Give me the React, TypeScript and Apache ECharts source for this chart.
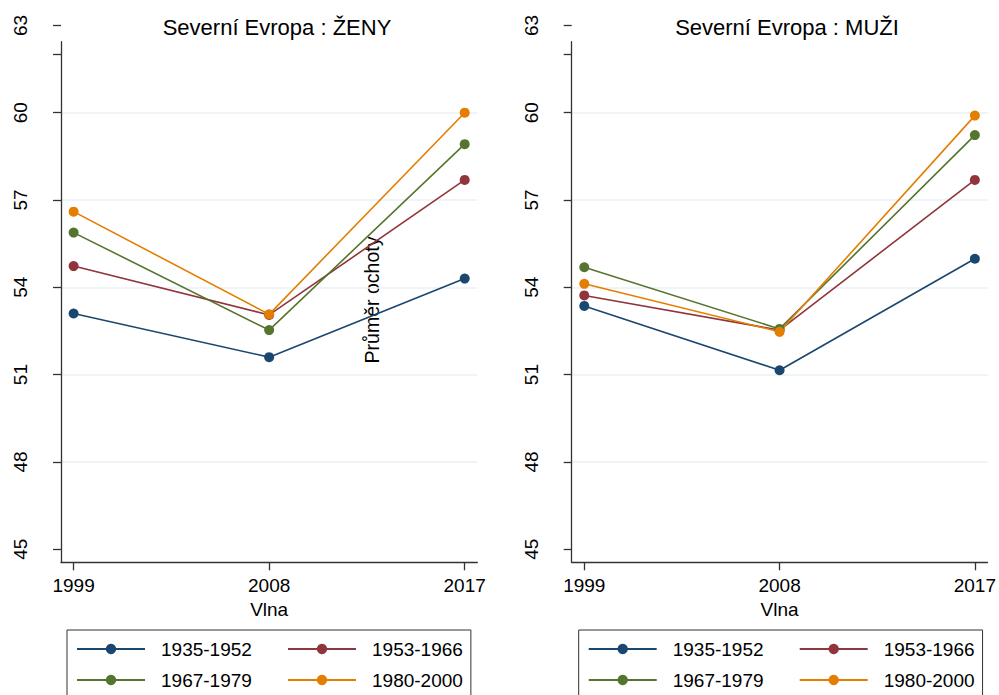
import React, { useEffect, useRef } from 'react';
import * as echarts from 'echarts';

// ---- data ----
const WAVES = [1999, 2008, 2017];
const COHORTS = ['1935-1952', '1953-1966', '1967-1979', '1980-2000'];
const COLORS = ['#1a476f', '#90353b', '#55752f', '#e37e00'];

const ZENY_1935_1952 = [53.1, 51.6, 54.3];
const ZENY_1953_1966 = [54.73, 53.05, 57.69];
const ZENY_1967_1979 = [55.88, 52.53, 58.92];
const ZENY_1980_2000 = [56.6, 53.07, 60.0];

const MUZI_1935_1952 = [53.36, 51.15, 54.98];
const MUZI_1953_1966 = [53.72, 52.53, 57.69];
const MUZI_1967_1979 = [54.69, 52.57, 59.23];
const MUZI_1980_2000 = [54.12, 52.47, 59.9];

const PANEL_TITLES = ['Severní Evropa : ŽENY', 'Severní Evropa : MUŽI'];
const Y_TICKS = [45, 48, 51, 54, 57, 60, 63];
const Y_EXTRA_TICKS = [62];
const X_TITLE = 'Vlna';
const Y_TITLE = 'Průměr ochoty';

// ---- layout ----
const FONT = '"Liberation Sans", Arial, sans-serif';
const PANEL_LEFT = [61, 571.7];
const GRID_W = 416.3;
const MAIN_TOP = 41.7;
const MAIN_H = 520.6;
const Y_RANGE = [44.55, 62.44];
const LABEL_TOP = 25.4;
const LABEL_H = 523.8;
const X_RANGE = [1998.42, 2017.58];
const TITLE_X = [272, 782];
const LEGEND_LEFT = [67, 578.7];
const AXIS_COLOR = '#333';
const GRID_COLOR = '#eaf2f3';

export default function App() {
  const ref = useRef<HTMLDivElement>(null);

  useEffect(() => {
    document.body.style.margin = '0';
    if (!ref.current) return;
    const chart = echarts.init(ref.current, undefined, { renderer: 'svg' });

    const panels = [
      [ZENY_1935_1952, ZENY_1953_1966, ZENY_1967_1979, ZENY_1980_2000],
      [MUZI_1935_1952, MUZI_1953_1966, MUZI_1967_1979, MUZI_1980_2000],
    ];

    const grids: any[] = [];
    const xAxes: any[] = [];
    const yAxes: any[] = [];
    const series: any[] = [];
    const titles: any[] = [];
    const legends: any[] = [];

    panels.forEach((panel, p) => {
      const mainIdx = grids.length;
      grids.push({ left: PANEL_LEFT[p], top: MAIN_TOP, width: GRID_W, height: MAIN_H, containLabel: false });
      grids.push({ left: PANEL_LEFT[p], top: LABEL_TOP, width: GRID_W, height: LABEL_H, containLabel: false });

      xAxes.push({
        gridIndex: mainIdx,
        type: 'value',
        min: X_RANGE[0],
        max: X_RANGE[1],
        axisLine: { show: true, onZero: false, lineStyle: { color: AXIS_COLOR, width: 1.3 } },
        axisTick: { show: true, customValues: WAVES, length: 8, lineStyle: { color: AXIS_COLOR, width: 1.3 } },
        axisLabel: {
          show: true,
          customValues: WAVES,
          formatter: (v: number) => String(v),
          fontSize: 19,
          margin: 14,
          color: '#000',
          fontFamily: FONT,
        },
        splitLine: { show: false },
        name: X_TITLE,
        nameLocation: 'middle',
        nameGap: 36,
        nameTextStyle: { fontSize: 19, color: '#000', fontFamily: FONT },
      });
      xAxes.push({
        gridIndex: mainIdx + 1,
        type: 'value',
        min: X_RANGE[0],
        max: X_RANGE[1],
        show: false,
      });

      yAxes.push({
        gridIndex: mainIdx,
        type: 'value',
        min: Y_RANGE[0],
        max: Y_RANGE[1],
        axisLine: { show: true, onZero: false, lineStyle: { color: AXIS_COLOR, width: 1.3 } },
        axisTick: { show: true, customValues: Y_EXTRA_TICKS, length: 8, lineStyle: { color: AXIS_COLOR, width: 1.3 } },
        axisLabel: { show: false },
        splitLine: { show: false },
      });
      yAxes.push({
        gridIndex: mainIdx + 1,
        type: 'value',
        min: Y_TICKS[0],
        max: Y_TICKS[Y_TICKS.length - 1],
        interval: Y_TICKS[1] - Y_TICKS[0],
        axisLine: { show: false },
        axisTick: { show: true, length: 8, lineStyle: { color: AXIS_COLOR, width: 1.3 } },
        axisLabel: { show: true, rotate: 90, margin: 31, fontSize: 19, color: '#000', fontFamily: FONT },
        splitLine: {
          show: true,
          showMinLine: false,
          showMaxLine: false,
          lineStyle: { color: GRID_COLOR, width: 1.5 },
        },
      });

      panel.forEach((vals, i) => {
        series.push({
          type: 'line',
          name: COHORTS[i],
          xAxisIndex: mainIdx,
          yAxisIndex: mainIdx,
          data: WAVES.map((w, j) => [w, vals[j]]),
          symbol: 'circle',
          symbolSize: 10,
          showSymbol: true,
          lineStyle: { color: COLORS[i], width: 1.6 },
          itemStyle: { color: COLORS[i], borderWidth: 0 },
          emphasis: { disabled: true },
        });
      });

      titles.push({
        text: PANEL_TITLES[p],
        left: TITLE_X[p],
        top: 11,
        textAlign: 'center',
        textStyle: { fontSize: 22, fontWeight: 'normal', color: '#000', fontFamily: FONT },
      });

      legends.push({
        left: LEGEND_LEFT[p],
        top: 630,
        width: 400,
        orient: 'horizontal',
        itemGap: 0,
        itemWidth: 68,
        itemHeight: 13,
        padding: [3.5, 8, 6, 9],
        borderColor: AXIS_COLOR,
        borderWidth: 1,
        borderRadius: 0,
        backgroundColor: '#fff',
        selectedMode: false,
        textStyle: {
          fontSize: 19,
          color: '#000',
          lineHeight: 31,
          padding: [0, 0, 0, 11],
          fontFamily: FONT,
        },
        data: COHORTS.map((c, i) => (i % 2 === 0 ? { name: c, textStyle: { width: 126 } } : { name: c })),
      });
    });

    chart.setOption({
      animation: false,
      backgroundColor: '#fff',
      title: titles,
      legend: legends,
      grid: grids,
      xAxis: xAxes,
      yAxis: yAxes,
      series,
      graphic: [
        {
          type: 'text',
          x: 372,
          y: 300,
          rotation: Math.PI / 2,
          style: {
            text: Y_TITLE,
            fill: '#000',
            font: `19.5px ${FONT}`,
            align: 'center',
            verticalAlign: 'middle',
          },
          silent: true,
        },
      ],
    });

    return () => chart.dispose();
  }, []);

  return <div ref={ref} style={{ width: 999, height: 695 }} />;
}
